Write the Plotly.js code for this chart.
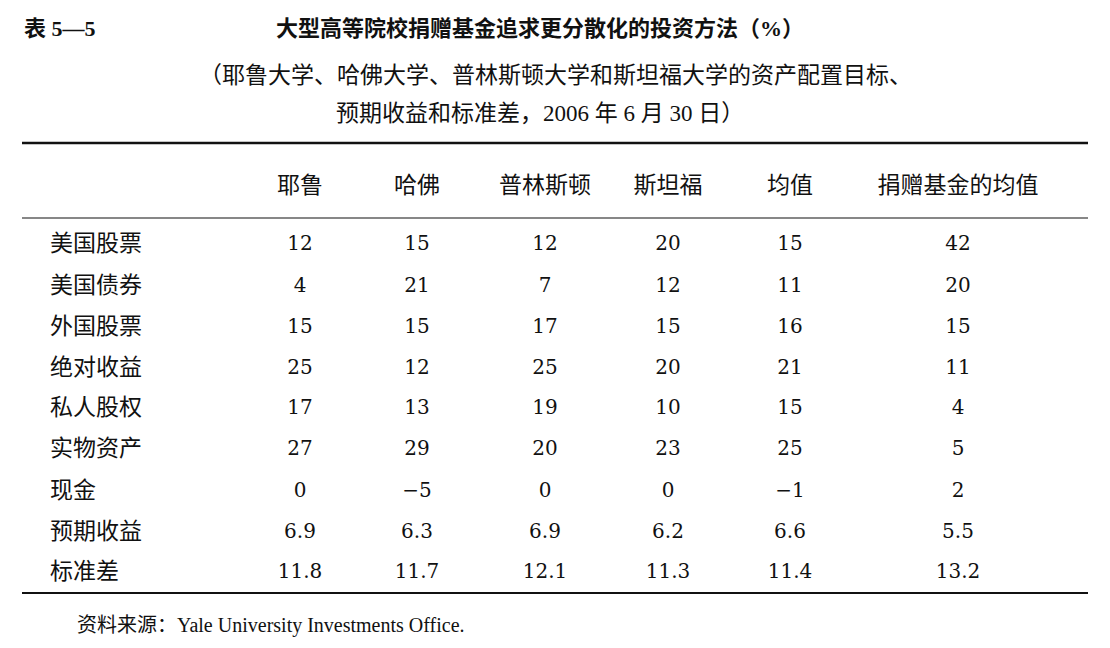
<!DOCTYPE html>
<html>
<head>
<meta charset="utf-8">
<script src="https://cdn.plot.ly/plotly-3.1.0.min.js"></script>
<style>html,body{margin:0;padding:0;background:#fff}</style>
</head>
<body>
<div id="chart" style="width:1110px;height:648px"></div>
<script>
// table contents
const columns = ["耶鲁", "哈佛", "普林斯顿", "斯坦福", "均值", "捐赠基金的均值"];
const rowLabels = ["美国股票", "美国债券", "外国股票", "绝对收益", "私人股权", "实物资产", "现金", "预期收益", "标准差"];
const yale      = ["12", "4", "15", "25", "17", "27", "0", "6.9", "11.8"];
const harvard   = ["15", "21", "15", "12", "13", "29", "−5", "6.3", "11.7"];
const princeton = ["12", "7", "17", "25", "19", "20", "0", "6.9", "12.1"];
const stanford  = ["20", "12", "15", "20", "10", "23", "0", "6.2", "11.3"];
const average   = ["15", "11", "16", "21", "15", "25", "−1", "6.6", "11.4"];
const endowAvg  = ["42", "20", "15", "11", "4", "5", "2", "5.5", "13.2"];

const values = [yale, harvard, princeton, stanford, average, endowAvg];
const colX = [300, 417, 545, 668, 790, 958];
const rowY = [245, 287, 328, 369, 409, 450, 492, 533, 573];
const font = "Liberation Serif, Noto Sans CJK SC, serif";
const numFont = "DejaVu Serif, Liberation Serif, serif";
const cellFont = {family: font, size: 23, color: "#111"};

const traces = [];
traces.push({
  type: "scatter", mode: "text", hoverinfo: "skip",
  x: colX, y: colX.map(() => 187), text: columns,
  textfont: cellFont
});
traces.push({
  type: "scatter", mode: "text", hoverinfo: "skip", textposition: "middle right",
  x: rowLabels.map(() => 50), y: rowY, text: rowLabels,
  textfont: cellFont
});
values.forEach((col, i) => {
  traces.push({
    type: "scatter", mode: "text", hoverinfo: "skip",
    x: col.map(() => colX[i]), y: rowY, text: col,
    textfont: {family: numFont, size: 20, color: "#111"}
  });
});

const line = (y, w) => ({type: "line", xref: "x", yref: "y", x0: 22, x1: 1088, y0: y, y1: y,
  line: {color: "#111", width: w}});

const layout = {
  width: 1110, height: 648,
  margin: {l: 0, r: 0, t: 0, b: 0},
  paper_bgcolor: "#fff", plot_bgcolor: "#fff",
  showlegend: false,
  xaxis: {range: [0, 1110], visible: false, fixedrange: true},
  yaxis: {range: [648, 0], visible: false, fixedrange: true},
  shapes: [line(143, 2.5), line(218, 1.2), line(593, 2.2)],
  annotations: [
    {x: 22, y: 28, xanchor: "left", text: "<b>表 5—5</b>", showarrow: false,
      font: {family: font, size: 22, color: "#111"}},
    {x: 540, y: 28, text: "<b>大型高等院校捐赠基金追求更分散化的投资方法（%）</b>", showarrow: false,
      font: {family: font, size: 22, color: "#111"}},
    {x: 555, y: 75, text: "（耶鲁大学、哈佛大学、普林斯顿大学和斯坦福大学的资产配置目标、", showarrow: false,
      font: cellFont},
    {x: 540, y: 113, text: "预期收益和标准差，2006 年 6 月 30 日）", showarrow: false,
      font: cellFont},
    {x: 75, y: 625, xanchor: "left", text: "资料来源：Yale University Investments Office.", showarrow: false,
      font: {family: font, size: 20, color: "#111"}}
  ]
};

Plotly.newPlot("chart", traces, layout, {staticPlot: true});
</script>
</body>
</html>
